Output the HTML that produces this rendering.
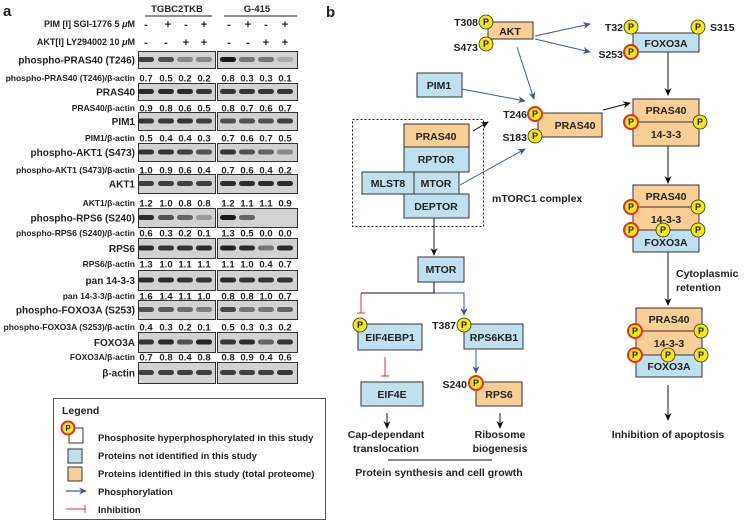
<!DOCTYPE html>
<html><head><meta charset="utf-8"><style>
html,body{margin:0;padding:0;background:#fff;}
svg{display:block;font-family:"Liberation Sans",Arial,sans-serif;}
</style></head><body>
<svg width="746" height="523" viewBox="0 0 746 523" xmlns="http://www.w3.org/2000/svg">
<defs>
<marker id="ab" markerWidth="8" markerHeight="8" refX="7" refY="4" orient="auto" markerUnits="userSpaceOnUse"><path d="M0,0.5 L8,4 L0,7.5 L2.5,4 Z" fill="#3a55a8"/></marker>
<marker id="ak" markerWidth="8" markerHeight="8" refX="7" refY="4" orient="auto" markerUnits="userSpaceOnUse"><path d="M0,0.5 L8,4 L0,7.5 L2.5,4 Z" fill="#111"/></marker>
</defs>
<g font-weight="bold" fill="#222">
<text x="3" y="16" font-size="15">a</text>
<text x="326" y="17" font-size="15">b</text>
<text x="177" y="12" font-size="9.5" text-anchor="middle">TGBC2TKB</text>
<text x="257" y="12" font-size="9.5" text-anchor="middle">G-415</text>
</g>
<line x1="145" y1="16" x2="212" y2="16" stroke="#222" stroke-width="1"/>
<line x1="224" y1="16" x2="297" y2="16" stroke="#222" stroke-width="1"/>
<g font-weight="bold" fill="#222" font-size="9" text-anchor="end">
<text x="135" y="27">PIM [I] SGI-1776 5 <tspan font-style="italic">μ</tspan>M</text>
<text x="135" y="45">AKT[I] LY294002 10 <tspan font-style="italic">μ</tspan>M</text>
</g>
<g font-weight="bold" fill="#222" font-size="11" text-anchor="middle">
<text x="146" y="28">-</text><text x="168" y="28">+</text><text x="186" y="28">-</text><text x="204" y="28">+</text>
<text x="229" y="28">-</text><text x="248" y="28">+</text><text x="266" y="28">-</text><text x="285" y="28">+</text>
<text x="146" y="46">-</text><text x="166" y="46">-</text><text x="186" y="46">+</text><text x="204" y="46">+</text>
<text x="229" y="46">-</text><text x="248" y="46">-</text><text x="266" y="46">+</text><text x="285" y="46">+</text>
</g>
<g id="blots"></g>
<!-- Legend -->
<rect x="53.5" y="398.5" width="272" height="121" fill="#fff" stroke="#555"/>
<text x="62" y="414" font-size="10.5" font-weight="bold" fill="#222">Legend</text>
<rect x="69" y="428" width="14" height="15" fill="#fff" stroke="#333"/>
<circle cx="68" cy="428" r="6.5" fill="#f5e61a" stroke="#e03020" stroke-width="2"/>
<text x="68" y="431" font-size="8" font-weight="bold" text-anchor="middle" fill="#222">P</text>
<rect x="68" y="449" width="14" height="14" fill="#bfe1ef" stroke="#333"/>
<rect x="68" y="467" width="14" height="14" fill="#f9cf96" stroke="#333"/>
<line x1="66" y1="491" x2="86" y2="491" stroke="#3a55a8" stroke-width="1.2" marker-end="url(#ab)"/>
<line x1="66" y1="509" x2="85" y2="509" stroke="#e03030" stroke-width="1"/><line x1="85" y1="505" x2="85" y2="513" stroke="#e03030" stroke-width="1"/>
<g font-size="9.5" font-weight="bold" fill="#222">
<text x="98" y="441">Phosphosite hyperphosphorylated in this study</text>
<text x="98" y="459">Proteins not identified in this study</text>
<text x="98" y="477">Proteins identified in this study (total proteome)</text>
<text x="98" y="495">Phosphorylation</text>
<text x="98" y="513">Inhibition</text>
</g>

<!-- Panel b -->
<g stroke="#333" stroke-width="1">
<rect x="488" y="22" width="45" height="17" fill="#f9cf96"/>
<rect x="633" y="33" width="66" height="19" fill="#bfe1ef"/>
<rect x="417" y="73" width="45" height="24" fill="#bfe1ef"/>
<rect x="538" y="113" width="64" height="24" fill="#f9cf96"/>
<rect x="404" y="124" width="65" height="23" fill="#f9cf96"/>
<rect x="404" y="147" width="65" height="25" fill="#bfe1ef"/>
<rect x="362" y="172" width="52" height="22" fill="#bfe1ef"/>
<rect x="414" y="172" width="45" height="22" fill="#bfe1ef"/>
<rect x="404" y="194" width="65" height="24" fill="#bfe1ef"/>
<rect x="633" y="99" width="66" height="23" fill="#f9cf96"/>
<rect x="633" y="122" width="66" height="24" fill="#f9cf96"/>
<rect x="633" y="185" width="66" height="22" fill="#f9cf96"/>
<rect x="633" y="207" width="66" height="23" fill="#f9cf96"/>
<rect x="633" y="230" width="66" height="22" fill="#bfe1ef"/>
<rect x="418" y="257" width="46" height="25" fill="#bfe1ef"/>
<rect x="358" y="324" width="64" height="26" fill="#bfe1ef"/>
<rect x="464" y="324" width="59" height="25" fill="#bfe1ef"/>
<rect x="361" y="382" width="62" height="24" fill="#bfe1ef"/>
<rect x="476" y="382" width="46" height="24" fill="#f9cf96"/>
<rect x="636" y="308" width="66" height="23" fill="#f9cf96"/>
<rect x="636" y="331" width="66" height="24" fill="#f9cf96"/>
<rect x="636" y="355" width="66" height="22" fill="#bfe1ef"/>
</g>
<rect x="352.5" y="119.5" width="131" height="107" fill="none" stroke="#222" stroke-dasharray="2,2"/>
<g stroke="#3a55a8" stroke-width="1" fill="none">
<line x1="535" y1="36" x2="590" y2="24" marker-end="url(#ab)"/>
<line x1="535" y1="39" x2="590" y2="52" marker-end="url(#ab)"/>
<line x1="517" y1="47" x2="534" y2="99" marker-end="url(#ab)"/>
<line x1="462" y1="89" x2="525" y2="101" marker-end="url(#ab)"/>
<line x1="460" y1="185" x2="525" y2="149" marker-end="url(#ab)"/>
<polyline points="434,293 464,293 464,315" marker-end="url(#ab)"/>
<line x1="476" y1="350" x2="476" y2="373" marker-end="url(#ab)"/>
</g>
<g stroke="#111" stroke-width="1" fill="none">
<line x1="603" y1="110" x2="630" y2="103" marker-end="url(#ak)"/>
<line x1="473" y1="131" x2="488" y2="122" marker-end="url(#ak)"/>
<line x1="434" y1="218" x2="434" y2="255" marker-end="url(#ak)"/>
<line x1="668" y1="52" x2="668" y2="95" marker-end="url(#ak)"/>
<line x1="668" y1="146" x2="668" y2="183" marker-end="url(#ak)"/>
<line x1="668" y1="252" x2="668" y2="305" marker-end="url(#ak)"/>
<line x1="668" y1="385" x2="668" y2="420" marker-end="url(#ak)"/>
<line x1="387" y1="413" x2="387" y2="428" marker-end="url(#ak)"/>
<line x1="500" y1="413" x2="500" y2="428" marker-end="url(#ak)"/>
<polyline points="434,282 434,293 361,293"/>
<line x1="388" y1="460" x2="492" y2="460"/>
</g>
<g stroke="#e03030" stroke-width="1">
<line x1="361" y1="293" x2="361" y2="313"/><line x1="357" y1="313" x2="365" y2="313"/>
<line x1="385" y1="357" x2="385" y2="376"/><line x1="381" y1="376" x2="389" y2="376"/>
</g>
<g font-size="10.5" font-weight="bold" fill="#222" text-anchor="middle">
<text x="510" y="35">AKT</text>
<text x="666" y="47">FOXO3A</text>
<text x="439" y="89">PIM1</text>
<text x="575" y="129">PRAS40</text>
<text x="436" y="140">PRAS40</text>
<text x="436" y="163">RPTOR</text>
<text x="388" y="187">MLST8</text>
<text x="436" y="187">MTOR</text>
<text x="436" y="210">DEPTOR</text>
<text x="666" y="114">PRAS40</text>
<text x="666" y="138">14-3-3</text>
<text x="666" y="200">PRAS40</text>
<text x="666" y="223">14-3-3</text>
<text x="666" y="246">FOXO3A</text>
<text x="441" y="273">MTOR</text>
<text x="390" y="341">EIF4EBP1</text>
<text x="494" y="341">RPS6KB1</text>
<text x="392" y="398">EIF4E</text>
<text x="499" y="398">RPS6</text>
<text x="669" y="323">PRAS40</text>
<text x="669" y="347">14-3-3</text>
<text x="669" y="370">FOXO3A</text>
<text x="386" y="438">Cap-dependant</text>
<text x="386" y="452">translocation</text>
<text x="500" y="438">Ribosome</text>
<text x="500" y="452">biogenesis</text>
<text x="439" y="476">Protein synthesis and cell growth</text>
<text x="668" y="438">Inhibition of apoptosis</text>
</g>
<g font-size="10.5" font-weight="bold" fill="#222">
<text x="492" y="202">mTORC1 complex</text>
<text x="676" y="277">Cytoplasmic</text>
<text x="676" y="291">retention</text>
<text x="710" y="31">S315</text>
</g>
<g font-size="10.5" font-weight="bold" fill="#222" text-anchor="end">
<text x="478" y="26">T308</text>
<text x="478" y="51">S473</text>
<text x="623" y="31">T32</text>
<text x="623" y="58">S253</text>
<text x="527" y="118">T246</text>
<text x="527" y="141">S183</text>
<text x="456" y="329">T387</text>
<text x="467" y="388">S240</text>
</g>
<g font-size="9" font-weight="bold" fill="#222" text-anchor="middle">
<g stroke="#333" stroke-width="0.8" fill="#f5e61a">
<circle cx="486" cy="22" r="7"/><circle cx="486" cy="44" r="7"/>
<circle cx="631" cy="27" r="7"/><circle cx="698" cy="27" r="7"/>
<circle cx="535" cy="136" r="7"/>
<circle cx="700" cy="122" r="7"/>
<circle cx="698" cy="207" r="7"/><circle cx="663" cy="230" r="7"/><circle cx="698" cy="230" r="7"/>
<circle cx="360" cy="325" r="7"/><circle cx="464" cy="325" r="7"/>
<circle cx="701" cy="331" r="7"/><circle cx="668" cy="355" r="7"/><circle cx="701" cy="355" r="7"/>
</g>
<g stroke="#e03020" stroke-width="2" fill="#f5e61a">
<circle cx="631" cy="52" r="7"/>
<circle cx="535" cy="114" r="7"/>
<circle cx="631" cy="122" r="7"/>
<circle cx="631" cy="207" r="7"/><circle cx="631" cy="230" r="7"/>
<circle cx="476" cy="383" r="7"/>
<circle cx="635" cy="331" r="7"/><circle cx="635" cy="355" r="7"/>
</g>
<text x="486" y="25">P</text><text x="486" y="47">P</text>
<text x="631" y="30">P</text><text x="698" y="30">P</text>
<text x="535" y="139">P</text><text x="700" y="125">P</text>
<text x="698" y="210">P</text><text x="663" y="233">P</text><text x="698" y="233">P</text>
<text x="360" y="328">P</text><text x="464" y="328">P</text>
<text x="701" y="334">P</text><text x="668" y="358">P</text><text x="701" y="358">P</text>
<text x="631" y="55">P</text><text x="535" y="117">P</text><text x="631" y="125">P</text>
<text x="631" y="210">P</text><text x="631" y="233">P</text><text x="476" y="386">P</text>
<text x="635" y="334">P</text><text x="635" y="358">P</text>
</g>
</svg>
<script>
(function(){
var rows=[
["phospho-PRAS40 (T246)",51,17,"phospho-PRAS40 (T246)/β-actin",78,["0.7","0.5","0.2","0.2","0.8","0.3","0.3","0.1"],[.8,.7,.4,.4,1,.5,.5,.2]],
["PRAS40",83,17,"PRAS40/β-actin",108,["0.9","0.8","0.6","0.5","0.8","0.7","0.6","0.7"],[.9,.9,.9,.85,.85,.85,.85,.85]],
["PIM1",112,18,"PIM1/β-actin",138,["0.5","0.4","0.4","0.3","0.7","0.6","0.7","0.5"],[.85,.85,.85,.8,.7,.7,.7,.8]],
["phospho-AKT1 (S473)",143,18,"phospho-AKT1 (S473)/β-actin",170,["1.0","0.9","0.6","0.4","0.7","0.6","0.4","0.2"],[.85,.85,.8,.7,.85,.7,.6,.4]],
["AKT1",174,19,"AKT1/β-actin",203,["1.2","1.0","0.8","0.8","1.2","1.1","1.1","0.9"],[.8,.8,.8,.8,.9,.9,.9,.9]],
["phospho-RPS6 (S240)",208,19,"phospho-RPS6 (S240)/β-actin",233,["0.6","0.3","0.2","0.1","1.3","0.5","0.0","0.0"],[.9,.7,.6,.3,1,.6,0,0]],
["RPS6",238,20,"RPS6/β-actin",264,["1.3","1.0","1.1","1.1","1.1","1.0","0.4","0.7"],[.9,.85,.85,.9,.95,.9,.5,.9]],
["pan 14-3-3",270,20,"pan 14-3-3/β-actin",296,["1.6","1.4","1.1","1.0","0.8","0.8","1.0","0.7"],[.9,.9,.85,.85,.9,.85,.85,.85]],
["phospho-FOXO3A (S253)",300,19,"phospho-FOXO3A (S253)/β-actin",327,["0.4","0.3","0.2","0.1","0.5","0.3","0.3","0.2"],[.7,.65,.55,.45,.75,.5,.5,.6]],
["FOXO3A",332,20,"FOXO3A/β-actin",357,["0.7","0.8","0.4","0.8","0.8","0.9","0.4","0.6"],[.85,.9,.7,.95,.85,.9,.6,.85]],
["β-actin",362,21,null,0,null,[.8,.8,.8,.8,.8,.8,.8,.85]]
];
var xs=[146,166,185,204,228,247,266,285];
var ns="http://www.w3.org/2000/svg",g=document.getElementById("blots");
function el(t,a,txt){var e=document.createElementNS(ns,t);for(var k in a)e.setAttribute(k,a[k]);if(txt!=null)e.textContent=txt;g.appendChild(e);return e;}
rows.forEach(function(r){
 var y=r[1],h=r[2];
 el("rect",{x:138.5,y:y+.5,width:77,height:h,fill:"#d2d2d2",stroke:"#333","stroke-width":1});
 el("rect",{x:217.5,y:y+.5,width:80,height:h,fill:"#d2d2d2",stroke:"#333","stroke-width":1});
 el("text",{x:135,y:y+h/2+4,"font-size":10,"font-weight":"bold","text-anchor":"end",fill:"#222"},r[0]);
 r[6].forEach(function(v,i){ if(v>0) el("rect",{x:xs[i]-8,y:y+h/2-2.5,width:16,height:5,rx:2.5,fill:"#1a1a1a",opacity:v}); });
 if(r[3]){
  el("text",{x:135,y:r[4]+3,"font-size":8.5,"font-weight":"bold","text-anchor":"end",fill:"#222"},r[3]);
  r[5].forEach(function(v,i){ el("text",{x:xs[i],y:r[4]+3.5,"font-size":9.5,"font-weight":"bold","text-anchor":"middle",fill:"#222"},v); });
 }
});
})();
</script>
</body></html>
